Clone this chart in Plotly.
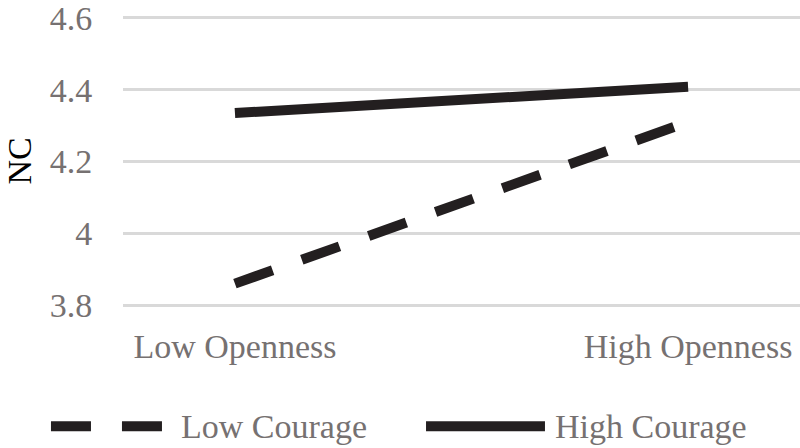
import plotly.graph_objects as go

# data
openness = ['Low Openness', 'High Openness']
low_courage = [3.86, 4.31]
high_courage = [4.335, 4.408]
y_ticks = [3.8, 4.0, 4.2, 4.4, 4.6]
y_tick_text = ['3.8', '4', '4.2', '4.4', '4.6']

FONT = 'Liberation Serif, Times New Roman, serif'
GRAY = '#767171'
INK = '#231f20'
LOW_DASH = '40px,31px'

fig = go.Figure()
fig.add_trace(go.Scatter(
    x=[0, 1], y=low_courage, mode='lines', name='Low Courage',
    line=dict(color=INK, width=10, dash=LOW_DASH),
))
fig.add_trace(go.Scatter(
    x=[0, 1], y=high_courage, mode='lines', name='High Courage',
    line=dict(color=INK, width=10),
))

# legend drawn by hand below the plot (wide keys like the original)
legend_y = -0.41
keys = [('Low Courage', -0.1064, 0.0576, 0.0827, LOW_DASH),
        ('High Courage', 0.4476, 0.6233, 0.6352, 'solid')]
for name, x0, x1, tx, dash in keys:
    fig.add_shape(type='line', xref='paper', yref='paper',
                  x0=x0, x1=x1, y0=legend_y, y1=legend_y,
                  line=dict(color=INK, width=10, dash=dash))
    fig.add_annotation(text=name, xref='paper', yref='paper', x=tx, y=legend_y,
                       xanchor='left', yanchor='middle', showarrow=False,
                       font=dict(family=FONT, size=34, color=GRAY))

# y axis title
fig.add_annotation(text='NC', xref='paper', yref='paper', x=-0.1536, y=0.5,
                   textangle=-90, showarrow=False, xanchor='center', yanchor='middle',
                   font=dict(family=FONT, size=34, color='#000000'))

# y range padded a hair so the 4.6 gridline is not clipped at the edge
fig.update_layout(
    width=800, height=448,
    margin=dict(l=123, r=0, t=15.7, b=141.3),
    paper_bgcolor='white', plot_bgcolor='white',
    font=dict(family=FONT, size=34, color=GRAY),
    showlegend=False,
    xaxis=dict(range=[-0.247, 1.247], tickvals=[0, 1], ticktext=openness,
               showgrid=False, zeroline=False, showline=False,
               ticks='outside', ticklen=9, tickcolor='rgba(0,0,0,0)'),
    yaxis=dict(range=[3.795, 4.605], tickvals=y_ticks, ticktext=y_tick_text,
               showgrid=True, gridcolor='#d9d9d9', gridwidth=2.5,
               zeroline=False, showline=False, ticklabeloverflow='allow',
               ticks='outside', ticklen=23, tickcolor='rgba(0,0,0,0)'),
)

# drop the default 8px body margin so the figure fills the window exactly
fig.write_html('out.html', config={'displayModeBar': False},
               post_script="document.body.style.margin='0';")
